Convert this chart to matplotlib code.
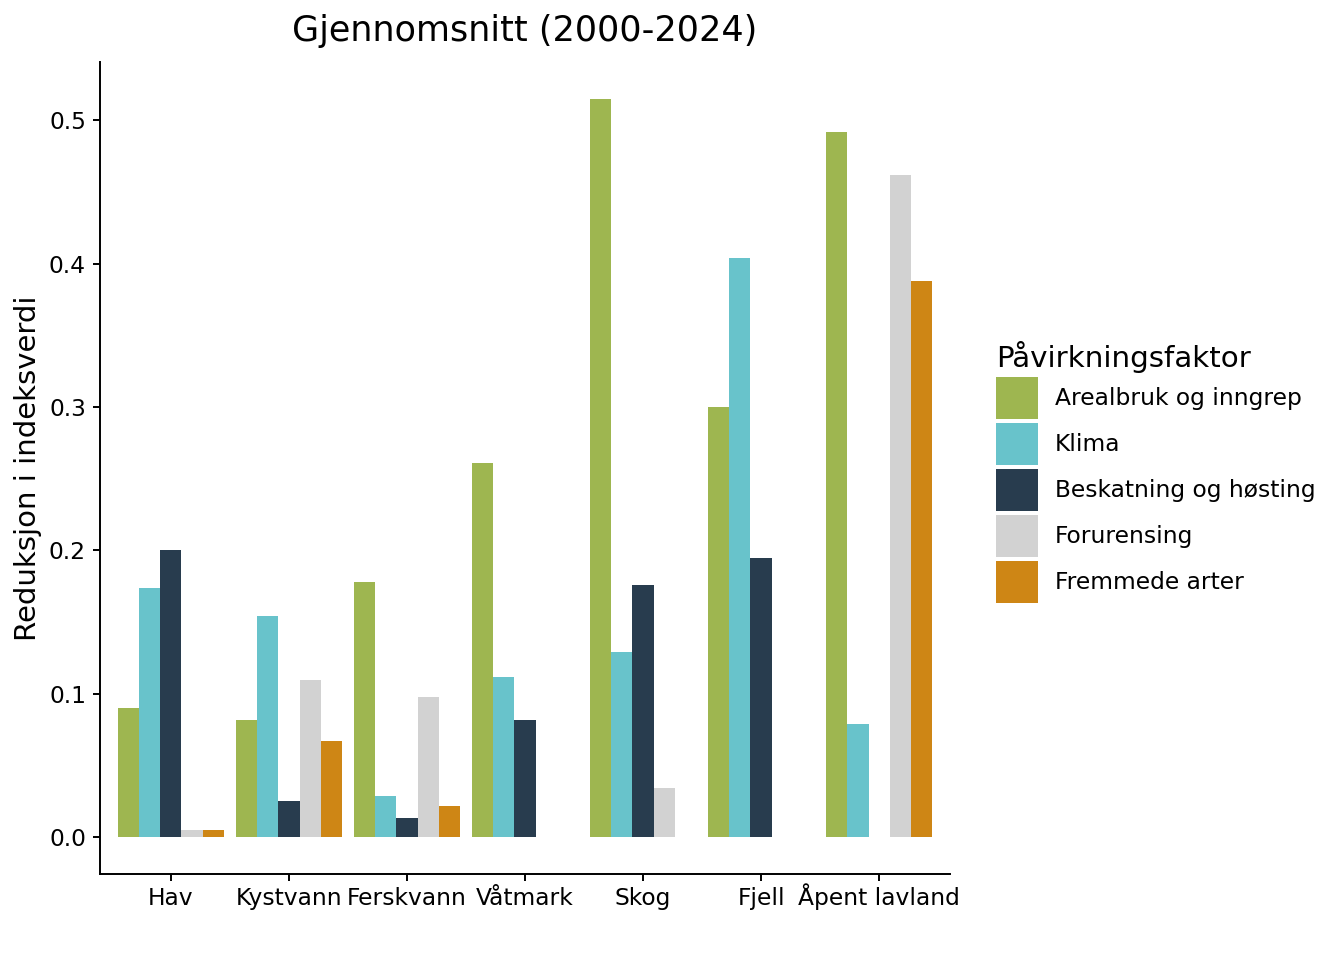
import numpy as np
import matplotlib
matplotlib.use("Agg")
import matplotlib.pyplot as plt

categories = ["Hav", "Kystvann", "Ferskvann", "Våtmark", "Skog", "Fjell", "Åpent lavland"]
factors = ["Arealbruk og inngrep", "Klima", "Beskatning og høsting", "Forurensing", "Fremmede arter"]
colors = ["#9EB650", "#68C3CB", "#283C4E", "#D2D2D2", "#CE8615"]

arealbruk = [0.090, 0.0816, 0.178, 0.261, 0.515, 0.300, 0.492]
klima = [0.174, 0.154, 0.0286, 0.112, 0.129, 0.404, 0.0788]
beskatning = [0.200, 0.025, 0.013, 0.0816, 0.176, 0.1946, np.nan]
forurensing = [0.005, 0.1095, 0.098, np.nan, 0.034, np.nan, 0.462]
fremmede = [0.005, 0.067, 0.0216, np.nan, np.nan, np.nan, 0.388]

series = [arealbruk, klima, beskatning, forurensing, fremmede]

fig = plt.figure(figsize=(13.44, 9.6), dpi=100)
ax = fig.add_axes([100 / 1344, 1 - 874 / 960, 850 / 1344, 812 / 960])

x = np.arange(len(categories))
w = 0.9 / len(series)
for j, (vals, name, col) in enumerate(zip(series, factors, colors)):
    ax.bar(x + (j - 2) * w, vals, width=w, color=col, label=name, linewidth=0)

ax.set_xlim(-0.6, len(categories) - 1 + 0.6)
ax.set_ylim(-0.02575, 0.54075)
ax.set_xticks(x)
ax.set_xticklabels(categories, fontsize=16.8)
ax.set_yticks([0.0, 0.1, 0.2, 0.3, 0.4, 0.5])
ax.set_yticklabels(["0.0", "0.1", "0.2", "0.3", "0.4", "0.5"], fontsize=16.8)
ax.tick_params(length=5, width=1.4, color="black", pad=5)
ax.tick_params(axis="x", pad=17)
for lbl in ax.get_xticklabels():
    lbl.set_verticalalignment("baseline")
for s in ["top", "right"]:
    ax.spines[s].set_visible(False)
for s in ["left", "bottom"]:
    ax.spines[s].set_linewidth(1.4)

ax.set_ylabel("Reduksjon i indeksverdi", fontsize=21, labelpad=5)
ax.set_title("Gjennomsnitt (2000-2024)", fontsize=25.2, pad=15)

fs = 16.8 * 100 / 72
hh = (42 / fs - 0.245) / 0.65
leg = fig.legend(loc="center left", bbox_to_anchor=(996 / 1344, 1 - 472 / 960),
                 frameon=False, fontsize=16.8, title="Påvirkningsfaktor",
                 title_fontsize=21.2, handlelength=42 / fs, handleheight=hh,
                 labelspacing=4 / fs, handletextpad=17 / fs, borderpad=0,
                 borderaxespad=0, alignment="left")

fig.savefig("out.png", dpi=100)
